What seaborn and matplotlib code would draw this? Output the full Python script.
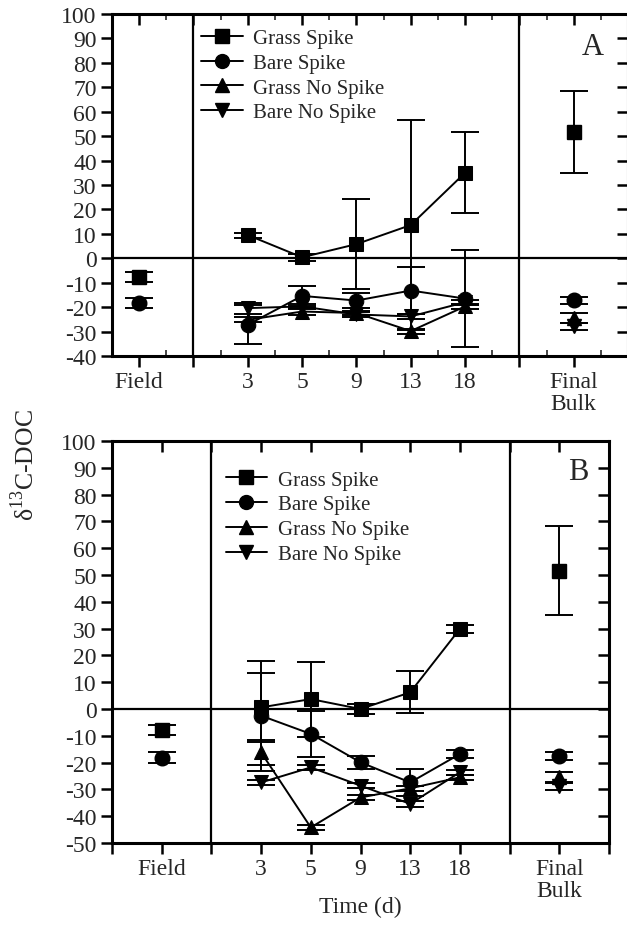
import numpy as np
import pandas as pd
import matplotlib
matplotlib.use("Agg")
import matplotlib.pyplot as plt
from matplotlib.lines import Line2D
from matplotlib.ticker import MultipleLocator
import seaborn as sns

# ---- data ------------------------------------------------------------
treatments = ["Grass Spike", "Bare Spike", "Grass No Spike", "Bare No Spike"]
days = ["3", "5", "9", "13", "18"]

# panel A
a_mean = {
    "Grass Spike":    [9.5, 0.4, 5.8, 13.6, 35.0],
    "Bare Spike":     [-27.2, -15.4, -17.3, -13.2, -16.5],
    "Grass No Spike": [-25.2, -21.8, -22.4, -29.8, -19.7],
    "Bare No Spike":  [-20.4, -19.7, -23.0, -23.8, -18.0],
}
a_err = {
    "Grass Spike":    [1.0, 1.5, 18.5, 43.0, 16.5],
    "Bare Spike":     [8.0, 4.0, 3.0, 9.8, 19.7],
    "Grass No Spike": [1.0, 1.5, 1.0, 1.0, 1.0],
    "Bare No Spike":  [2.3, 1.0, 1.0, 1.0, 1.0],
}
# panel B
b_mean = {
    "Grass Spike":    [0.6, 3.7, 0.0, 6.2, 29.9],
    "Bare Spike":     [-2.5, -9.3, -19.9, -27.4, -16.8],
    "Grass No Spike": [-16.2, -44.2, -33.0, -29.6, -25.5],
    "Bare No Spike":  [-27.4, -21.8, -28.6, -35.4, -23.6],
}
b_err = {
    "Grass Spike":    [12.8, 14.0, 2.0, 7.8, 1.5],
    "Bare Spike":     [20.5, 8.7, 2.5, 5.0, 1.5],
    "Grass No Spike": [4.8, 1.0, 1.0, 1.0, 1.0],
    "Bare No Spike":  [1.0, 1.0, 1.0, 1.0, 1.0],
}

field_mean = {"Grass Spike": -7.8, "Bare Spike": -18.2}
field_err = {"Grass Spike": 2.0, "Bare Spike": 2.0}

a_final_mean = {"Grass Spike": 51.6, "Bare Spike": -17.2, "Grass No Spike": -24.5, "Bare No Spike": -27.9}
b_final_mean = {"Grass Spike": 51.6, "Bare Spike": -17.4, "Grass No Spike": -25.5, "Bare No Spike": -28.6}
final_err = {"Grass Spike": 16.7, "Bare Spike": 1.5, "Grass No Spike": 2.0, "Bare No Spike": 1.5}

markers = {"Grass Spike": "s", "Bare Spike": "o", "Grass No Spike": "^", "Bare No Spike": "v"}

# ---- style -----------------------------------------------------------
sns.set_theme(style="ticks")
plt.rcParams["font.family"] = ["Liberation Serif", "DejaVu Serif"]
plt.rcParams["mathtext.fontset"] = "custom"
plt.rcParams["mathtext.rm"] = "Liberation Serif"
plt.rcParams["axes.unicode_minus"] = False

FIELD_X, FINAL_X = 1, 9
day_x = np.arange(len(days)) + 3


def draw_panel(ax, mean, err, final_mean, xlim, ylim, letter, letter_pos,
               legend_anchor, minor):
    rows = []
    for t in treatments:
        for x, v in zip(day_x, mean[t]):
            rows.append({"x": x, "value": v, "treatment": t})
    df = pd.DataFrame(rows)

    # reference lines
    ax.axhline(0, color="black", lw=1.6, zorder=1)
    ax.axvline(2, color="black", lw=1.6, zorder=1)
    ax.axvline(8, color="black", lw=1.6, zorder=1)

    for t in treatments:
        ax.errorbar(day_x, mean[t], yerr=err[t], fmt="none", ecolor="black",
                    elinewidth=1.4, capsize=10, capthick=1.4, zorder=2)
    sns.lineplot(data=df, x="x", y="value", style="treatment", markers=markers,
                 dashes=False, color="black", markersize=10.5, lw=1.4,
                 markeredgecolor="black", legend=False, ax=ax, zorder=3)

    # field and final bulk points
    for t in field_mean:
        ax.errorbar([FIELD_X], [field_mean[t]], yerr=[field_err[t]], fmt=markers[t],
                    color="black", ms=10.5, elinewidth=1.4, capsize=10, capthick=1.4)
    for t in treatments:
        ax.errorbar([FINAL_X], [final_mean[t]], yerr=[final_err[t]], fmt=markers[t],
                    color="black", ms=10.5, elinewidth=1.4, capsize=10, capthick=1.4)

    ax.set_xlim(*xlim)
    ax.set_ylim(*ylim)
    ax.yaxis.set_major_locator(MultipleLocator(10))

    ticks = np.arange(np.ceil(xlim[0]), np.floor(xlim[1]) + 1)
    labels = {FIELD_X: "Field", FINAL_X: "Final\nBulk"}
    labels.update({x: d for x, d in zip(day_x, days)})
    ax.set_xticks(ticks)
    ax.set_xticklabels([labels.get(int(x), "") for x in ticks], linespacing=1.05)
    if minor:
        ax.xaxis.set_minor_locator(MultipleLocator(0.5))
        ax.tick_params(axis="x", which="minor", bottom=True, top=True,
                       direction="in", length=4, width=1.2)

    ax.tick_params(axis="both", which="major", labelsize=17, width=1.8, length=8,
                   color="black", pad=3)
    ax.tick_params(axis="x", which="major", direction="out", top=True)
    ax.tick_params(axis="y", which="major", direction="out", right=True)
    for sp in ax.spines.values():
        sp.set_visible(True)
        sp.set_linewidth(2.2)
        sp.set_color("black")
    ax.set_xlabel("")
    ax.set_ylabel("")

    ax.text(letter_pos[0], letter_pos[1], letter, transform=ax.transAxes,
            ha="center", va="center", fontsize=22)

    handles = [Line2D([0], [0], color="black", lw=1.4, marker=markers[t], ms=10)
               for t in treatments]
    ax.legend(handles, treatments, loc="upper left", bbox_to_anchor=legend_anchor,
              frameon=False, fontsize=15, handlelength=2.0, handletextpad=0.5,
              labelspacing=0.25, borderpad=0.2, borderaxespad=0)


fig = plt.figure(figsize=(6.27, 9.29), dpi=100)
ax_a = fig.add_axes([112 / 627, 1 - 357 / 929, 516 / 627, 342 / 929])
ax_b = fig.add_axes([112 / 627, 1 - 844 / 929, 497 / 627, 402 / 929])

draw_panel(ax_a, a_mean, a_err, a_final_mean, (0.5, 10.0), (-40, 100), "A",
           (0.932, 0.906), (0.165, 0.97), True)
draw_panel(ax_b, b_mean, b_err, b_final_mean, (0.0, 10.0), (-50, 100), "B",
           (0.938, 0.925), (0.22, 0.938), False)

# right-hand ticks point inward, no labels; top ticks point inward
for ax in (ax_a, ax_b):
    ax.tick_params(axis="y", which="major", right=True, labelright=False)
    for tk in ax.yaxis.get_major_ticks():
        tk.tick2line.set_marker(matplotlib.lines.TICKLEFT)
    for tk in ax.xaxis.get_major_ticks():
        tk.tick2line.set_marker(matplotlib.lines.TICKDOWN)

fig.text(360 / 627, 1 - 907 / 929, "Time (d)", ha="center", va="center", fontsize=17)
fig.text(25 / 627, 1 - 465 / 929, "δ$^{13}$C-DOC", rotation=90,
         ha="center", va="center", fontsize=18.5)

fig.savefig("out.png", dpi=100)
